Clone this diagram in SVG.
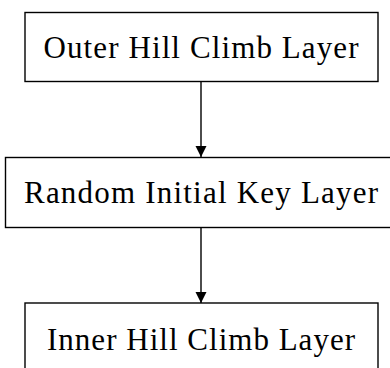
<svg xmlns="http://www.w3.org/2000/svg" width="390" height="368" viewBox="0 0 390 368">
<style>
.box{fill:#fff;stroke:#000;stroke-width:1.4}
.lbl{font-family:"Liberation Serif","DejaVu Serif",serif;font-size:31px;fill:#000;text-anchor:middle}
.edge{stroke:#000;stroke-width:1.4;fill:none}
</style>
<defs>
<marker id="ah" viewBox="0 0 11 15" refX="11" refY="7.5" markerWidth="11" markerHeight="15" markerUnits="userSpaceOnUse" orient="auto">
<path d="M0,2 L11,7.5 L0,13 Z" fill="#000"/>
</marker>
</defs>
<g id="connectors">
<line class="edge" x1="201" y1="82" x2="201" y2="157" marker-end="url(#ah)"/>
<line class="edge" x1="201" y1="228" x2="201" y2="303" marker-end="url(#ah)"/>
</g>
<g id="outer">
<rect class="box" x="25" y="12.5" width="353" height="69"/>
<text class="lbl" x="201" y="57.5" textLength="315">Outer Hill Climb Layer</text>
</g>
<g id="random">
<rect class="box" x="5.5" y="157.5" width="391" height="70"/>
<text class="lbl" x="201" y="203" textLength="354">Random Initial Key Layer</text>
</g>
<g id="inner">
<rect class="box" x="25" y="303" width="353" height="70"/>
<text class="lbl" x="201" y="350" textLength="308">Inner Hill Climb Layer</text>
</g>
</svg>
